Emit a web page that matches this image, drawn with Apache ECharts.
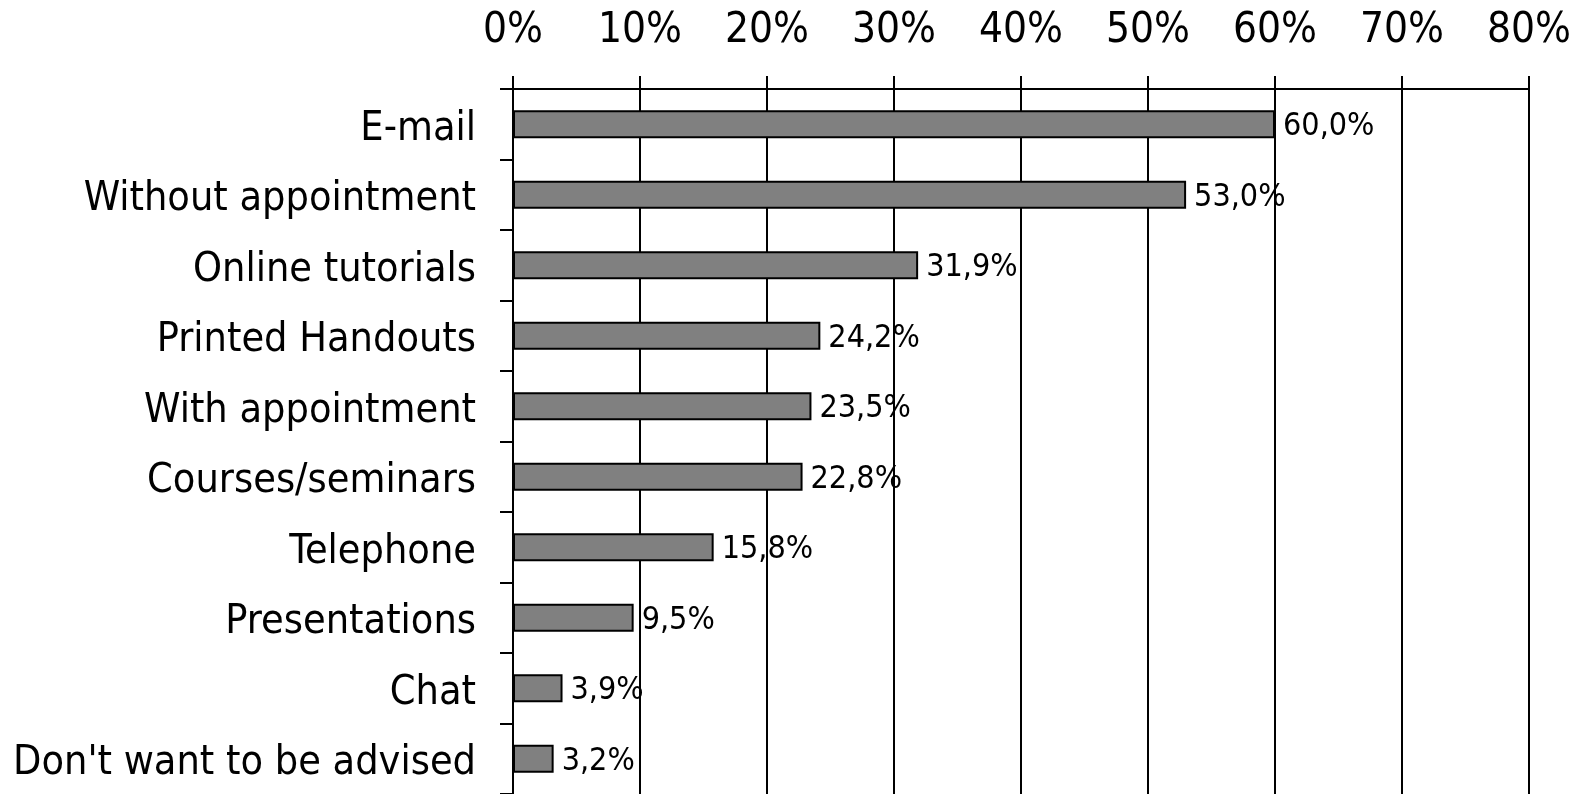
<!DOCTYPE html>
<html>
<head>
<meta charset="utf-8">
<script src="https://cdn.jsdelivr.net/npm/echarts@6/dist/echarts.min.js"></script>
<style>
html,body{margin:0;padding:0;background:#fff;}
#c{width:1582px;height:794px;}
</style>
</head>
<body>
<div id="c"></div>
<script>
const categories = ["E-mail","Without appointment","Online tutorials","Printed Handouts","With appointment","Courses/seminars","Telephone","Presentations","Chat","Don't want to be advised"];
const values = [60.0,53.0,31.9,24.2,23.5,22.8,15.8,9.5,3.9,3.2];
const tickMax = 80;
const tickStep = 10;

const FONT = "'DejaVu Sans Condensed', 'DejaVu Sans'";
const chart = echarts.init(document.getElementById('c'), null, {renderer:'canvas'});
chart.setOption({
  animation:false,
  backgroundColor:'#ffffff',
  grid:{left:513, right:53, top:89, bottom:0, containLabel:false},
  xAxis:{
    type:'value', position:'top', min:0, max:tickMax, interval:tickStep,
    axisLine:{show:true, lineStyle:{color:'#000', width:2}},
    axisTick:{show:true, length:13, lineStyle:{color:'#000', width:2}},
    splitLine:{show:true, lineStyle:{color:'#000', width:2}},
    axisLabel:{color:'#000', fontSize:42, fontFamily:FONT, margin:37, formatter:v=>v+'%'}
  },
  yAxis:{
    type:'category', data:categories, inverse:true,
    axisLine:{show:true, lineStyle:{color:'#000', width:2}},
    axisTick:{show:true, length:13, lineStyle:{color:'#000', width:2}},
    axisLabel:{color:'#000', fontSize:41, fontFamily:FONT, margin:37,
      formatter:v=>'{a|'+v+'}',
      rich:{a:{color:'#000', fontSize:41, fontFamily:FONT, padding:[10,0,0,0]}}}
  },
  series:[{
    type:'bar', data:values, barWidth:28,
    itemStyle:{color:'#808080', borderColor:'#000', borderWidth:2},
    label:{show:true, position:'right', distance:8, color:'#000', fontSize:32, fontFamily:FONT,
      formatter:p=>'{b|'+p.value.toFixed(1).replace('.',',')+'%}',
      rich:{b:{color:'#000', fontSize:32, fontFamily:FONT, padding:[5,0,0,0]}}}
  }]
});
</script>
</body>
</html>
